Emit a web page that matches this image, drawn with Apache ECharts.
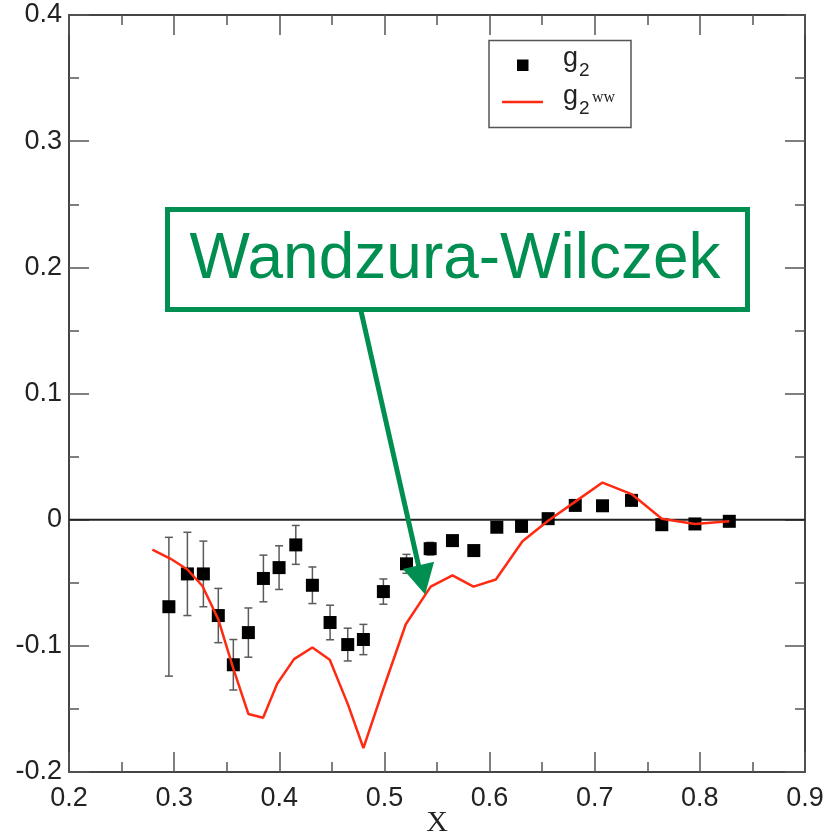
<!DOCTYPE html>
<html>
<head>
<meta charset="utf-8">
<script src="https://cdn.jsdelivr.net/npm/echarts@6/dist/echarts.min.js"></script>
<style>
  html, body { margin: 0; padding: 0; background: #fff; }
  #chart { width: 827px; height: 836px; }
</style>
</head>
<body>
<div id="chart"></div>
<script>
// Measured g2 structure function points with symmetric uncertainties
var xData = [0.295, 0.3126, 0.3278, 0.342, 0.3563, 0.3706, 0.3849, 0.3998, 0.4157, 0.4315,
             0.4483, 0.4651, 0.480, 0.499, 0.521, 0.5435, 0.5647, 0.585, 0.6069, 0.6304,
             0.6557, 0.6815, 0.7074, 0.735, 0.7638, 0.7953, 0.828];
var g2 = [-0.069, -0.043, -0.043, -0.076, -0.115, -0.0895, -0.0466, -0.038, -0.020, -0.052,
          -0.0815, -0.099, -0.095, -0.057, -0.035, -0.023, -0.0166, -0.0245, -0.006, -0.0053,
          0.0008, 0.0113, 0.011, 0.0153, -0.004, -0.0034, -0.0013];
var g2Err = [0.055, 0.033, 0.026, 0.0215, 0.020, 0.0195, 0.0185, 0.0173, 0.0154, 0.0145,
             0.0137, 0.013, 0.012, 0.010, 0.0075, 0.005, 0.004, 0.004, 0.003, 0.003,
             0.003, 0.003, 0.003, 0.003, 0.003, 0.003, 0.003];

// Wandzura-Wilczek curve g2^WW
var wwX = [0.2793, 0.2967, 0.3126, 0.3269, 0.342, 0.3563, 0.3706, 0.3846, 0.398, 0.414,
           0.4315, 0.448, 0.4651, 0.480, 0.499, 0.5203, 0.544, 0.5647, 0.5847, 0.606,
           0.6313, 0.6557, 0.6815, 0.7074, 0.735, 0.7638, 0.7953, 0.828];
var wwY = [-0.0237, -0.031, -0.0395, -0.0526, -0.079, -0.118, -0.154, -0.157, -0.130, -0.1105,
           -0.1013, -0.111, -0.146, -0.181, -0.134, -0.0829, -0.0531, -0.0442, -0.0531, -0.0474,
           -0.0171, -0.0008, 0.0143, 0.0294, 0.0203, 0.0008, -0.0034, -0.0013];

// Axis ranges
var xMin = 0.2, xMax = 0.9, xStep = 0.1;
var yMin = -0.2, yMax = 0.4, yStep = 0.1;

// Horizontal reference line
var zeroLine = [[xMin, 0], [xMax, 0]];

// Point the annotation arrow lands on (data coordinates)
var arrowTip = [0.5387, -0.0594];
var noteText = 'Wandzura-Wilczek';

var green = '#008f50';
var red = '#ff2a12';
var frameColor = '#444';
var tickColor = '#555';
var sansFont = '"Liberation Sans", Arial, sans-serif';
var serifFont = '"Liberation Serif", "Times New Roman", serif';

var pts = xData.map(function (x, i) { return [x, g2[i]]; });
var errs = xData.map(function (x, i) { return [x, g2[i] - g2Err[i], g2[i] + g2Err[i]]; });
var wwPts = wwX.map(function (x, i) { return [x, wwY[i]]; });

function fmt(v) { return (+v.toFixed(1)).toString(); }

function axisTicks() {
  return {
    axisLine: { show: true, onZero: false, lineStyle: { color: frameColor, width: 2 } },
    axisTick: { show: true, inside: true, length: 20, lineStyle: { color: tickColor, width: 1.5 } },
    minorTick: { show: true, splitNumber: 2, length: 10, lineStyle: { color: tickColor, width: 1.5 } },
    splitLine: { show: false },
    minorSplitLine: { show: false }
  };
}

var chart = echarts.init(document.getElementById('chart'));

var xBottom = Object.assign({
  type: 'value', min: xMin, max: xMax, interval: xStep, position: 'bottom',
  name: 'X', nameLocation: 'middle', nameGap: 36, nameMoveOverlap: false,
  nameTextStyle: { fontFamily: serifFont, fontSize: 30, color: '#222' },
  axisLabel: { fontFamily: sansFont, fontSize: 27, color: '#222', margin: 13, formatter: fmt }
}, axisTicks());
var xTop = Object.assign({
  type: 'value', min: xMin, max: xMax, interval: xStep, position: 'top',
  axisLabel: { show: false }
}, axisTicks());
var yLeft = Object.assign({
  type: 'value', min: yMin, max: yMax, interval: yStep, position: 'left',
  axisLabel: { fontFamily: sansFont, fontSize: 27, color: '#222', margin: 7, formatter: fmt }
}, axisTicks());
var yRight = Object.assign({
  type: 'value', min: yMin, max: yMax, interval: yStep, position: 'right',
  axisLabel: { show: false }
}, axisTicks());

chart.setOption({
  animation: false,
  backgroundColor: '#fff',
  grid: { left: 69, right: 22, top: 15, bottom: 64, containLabel: false, outerBoundsMode: 'none' },
  xAxis: [xBottom, xTop],
  yAxis: [yLeft, yRight],
  series: [
    {
      name: 'zero',
      type: 'line',
      z: 0,
      silent: true,
      symbol: 'none',
      lineStyle: { color: '#222', width: 2 },
      data: zeroLine
    },
    {
      // uncertainty bars with end caps
      type: 'custom',
      z: 1,
      silent: true,
      data: errs,
      renderItem: function (params, api) {
        var x = api.value(0);
        var lo = api.coord([x, api.value(1)]);
        var hi = api.coord([x, api.value(2)]);
        var cap = 4;
        var st = { stroke: '#5a5a5a', lineWidth: 1.5 };
        return {
          type: 'group',
          children: [
            { type: 'line', shape: { x1: lo[0], y1: lo[1], x2: hi[0], y2: hi[1] }, style: st },
            { type: 'line', shape: { x1: lo[0] - cap, y1: lo[1], x2: lo[0] + cap, y2: lo[1] }, style: st },
            { type: 'line', shape: { x1: hi[0] - cap, y1: hi[1], x2: hi[0] + cap, y2: hi[1] }, style: st }
          ]
        };
      }
    },
    {
      name: 'g2',
      type: 'scatter',
      z: 2,
      symbol: 'rect',
      symbolSize: 13,
      itemStyle: { color: '#000', opacity: 1 },
      data: pts
    },
    {
      name: 'g2ww',
      type: 'line',
      z: 3,
      symbol: 'none',
      lineStyle: { color: red, width: 2.5 },
      data: wwPts
    }
  ]
});

// Annotation box, arrow and legend
var tip = chart.convertToPixel({ xAxisIndex: 0, yAxisIndex: 0 }, arrowTip);
var start = [361, 311];
var dx = tip[0] - start[0], dy = tip[1] - start[1];
var len = Math.sqrt(dx * dx + dy * dy);
var ux = dx / len, uy = dy / len;
var headLen = 30, headHalf = 16;
var base = [tip[0] - ux * headLen, tip[1] - uy * headLen];
var px = -uy, py = ux;

chart.setOption({
  graphic: [
    {
      type: 'rect',
      shape: { x: 167.5, y: 209.5, width: 580, height: 100 },
      style: { fill: '#fff', stroke: green, lineWidth: 5 },
      z: 100
    },
    {
      type: 'text',
      x: 455, y: 260,
      style: {
        text: noteText, fill: green, font: '64px ' + sansFont,
        align: 'center', verticalAlign: 'middle'
      },
      z: 101
    },
    {
      type: 'line',
      shape: { x1: start[0], y1: start[1], x2: base[0] + ux * 4, y2: base[1] + uy * 4 },
      style: { stroke: green, lineWidth: 5 },
      z: 100
    },
    {
      type: 'polygon',
      shape: { points: [
        [tip[0], tip[1]],
        [base[0] + px * headHalf, base[1] + py * headHalf],
        [base[0] - px * headHalf, base[1] - py * headHalf]
      ] },
      style: { fill: green },
      z: 100
    },
    // legend
    {
      type: 'rect',
      shape: { x: 489, y: 40.5, width: 142, height: 87 },
      style: { fill: '#fff', stroke: '#555', lineWidth: 1.5 },
      z: 90
    },
    {
      type: 'rect',
      shape: { x: 517, y: 59.5, width: 11.5, height: 11.5 },
      style: { fill: '#000' },
      z: 91
    },
    {
      type: 'text', x: 563, y: 59,
      style: { text: 'g', fill: '#222', font: '27px ' + sansFont, verticalAlign: 'middle' },
      z: 91
    },
    {
      type: 'text', x: 579, y: 71,
      style: { text: '2', fill: '#222', font: '19px ' + sansFont, verticalAlign: 'middle' },
      z: 91
    },
    {
      type: 'line',
      shape: { x1: 502, y1: 102, x2: 543, y2: 102 },
      style: { stroke: red, lineWidth: 2.5 },
      z: 91
    },
    {
      type: 'text', x: 563, y: 97,
      style: { text: 'g', fill: '#222', font: '27px ' + sansFont, verticalAlign: 'middle' },
      z: 91
    },
    {
      type: 'text', x: 579, y: 109,
      style: { text: '2', fill: '#222', font: '19px ' + sansFont, verticalAlign: 'middle' },
      z: 91
    },
    {
      type: 'text', x: 592, y: 98,
      style: { text: 'ww', fill: '#222', font: '16px ' + serifFont, verticalAlign: 'middle' },
      z: 91
    }
  ]
});
</script>
</body>
</html>
